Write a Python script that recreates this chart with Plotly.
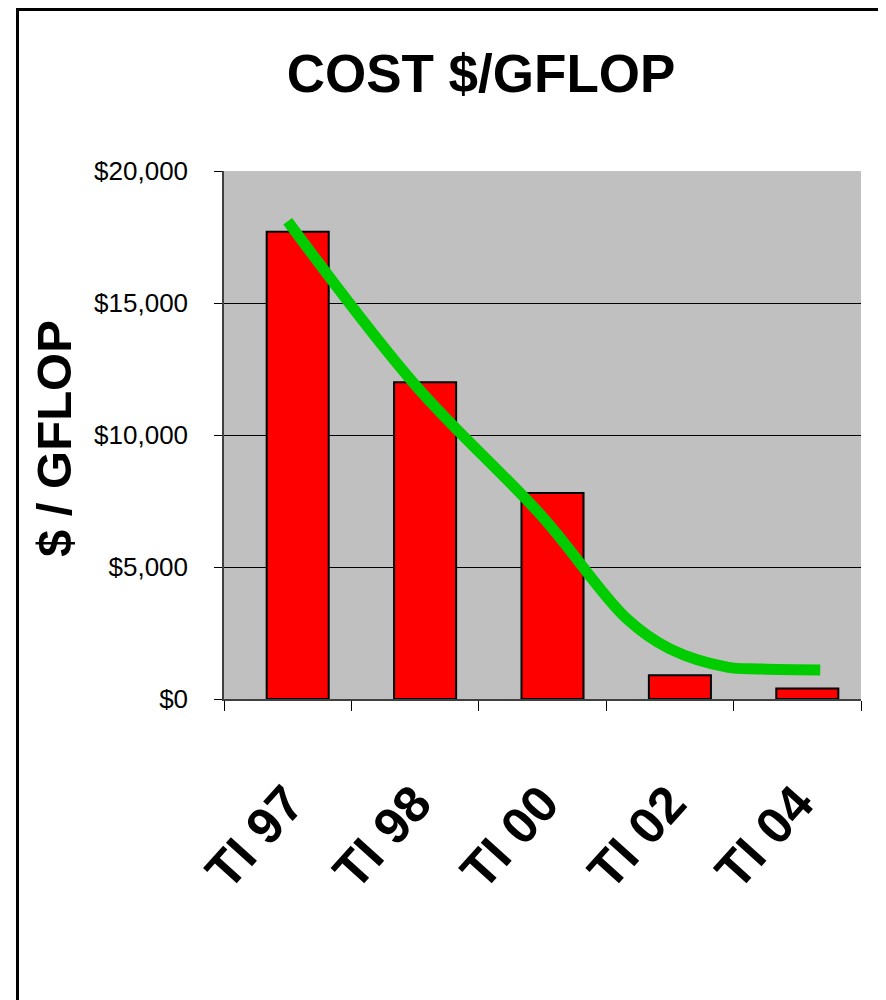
import plotly.graph_objects as go

# ---- data ----
categories = ["TI 97", "TI 98", "TI 00", "TI 02", "TI 04"]
cost_per_gflop = [17700, 12000, 7800, 900, 400]

# hand-drawn trend curve (x in category index units)
trend_x = [0.0, 1.0, 2.0, 2.66, 3.0, 3.45, 3.7, 4.18]
trend_y = [18100, 11900, 6900, 3050, 1900, 1210, 1140, 1100]

y_ticks = [0, 5000, 10000, 15000, 20000]
y_tick_labels = ["$0", "$5,000", "$10,000", "$15,000", "$20,000"]

# ---- layout constants (screen pixels; page body has an 8px margin) ----
OFF = 8
SW, SH = 886, 1000
W, H = SW - OFF, SH - OFF
PL, PR, PT, PB = 224, 861, 171, 699
pw, ph = PR - PL, PB - PT

def px_x(p):
    return (p - PL) / pw

def px_y(p):
    return (PB - p) / ph

FONT = "Liberation Sans, Arial, Helvetica, sans-serif"

fig = go.Figure()

fig.add_trace(go.Bar(
    x=list(range(len(categories))),
    y=cost_per_gflop,
    width=0.487,
    offset=-0.165,
    marker=dict(color="#FF0000", line=dict(color="#000000", width=2)),
    showlegend=False,
))

fig.add_trace(go.Scatter(
    x=trend_x,
    y=trend_y,
    mode="lines",
    line=dict(color="#00CC00", width=11, shape="spline", smoothing=1.0),
    showlegend=False,
))

fig.update_layout(
    width=W, height=H,
    margin=dict(l=PL - OFF, r=SW - PR, t=PT - OFF, b=SH - PB, pad=0),
    paper_bgcolor="white",
    plot_bgcolor="#C0C0C0",
    font=dict(family=FONT, color="black"),
    title=dict(
        text="<b>COST $/GFLOP</b>",
        font=dict(size=53, family=FONT, color="black"),
        x=(481 - OFF) / W, xref="container", xanchor="center",
        y=1 - (73 - OFF) / H, yref="container", yanchor="middle",
    ),
    xaxis=dict(
        range=[-0.5, 4.5],
        tickmode="array",
        tickvals=list(range(len(categories))),
        ticktext=[f"<b>{c}</b>" for c in categories],
        tickangle=-48,
        tickfont=dict(size=51, family=FONT, color="black"),
        ticks="",
        showgrid=False,
        zeroline=False,
        showline=True,
        linecolor="#404040",
        linewidth=1.5,
        minor=dict(
            tickmode="array",
            tickvals=[i - 0.5 for i in range(len(categories) + 1)],
            ticks="outside",
            ticklen=10,
            tickwidth=1,
            tickcolor="black",
            showgrid=False,
        ),
        ticklabelstandoff=52,
        fixedrange=True,
    ),
    yaxis=dict(
        range=[0, 20000],
        tickmode="array",
        tickvals=y_ticks,
        ticktext=y_tick_labels,
        tickfont=dict(size=26, family=FONT, color="black"),
        ticks="outside",
        ticklen=8,
        tickcolor="black",
        showgrid=True,
        gridcolor="black",
        gridwidth=1,
        zeroline=False,
        showline=True,
        linecolor="#404040",
        linewidth=1.5,
        ticklabelstandoff=21,
        fixedrange=True,
    ),
    annotations=[
        dict(
            text="<b>$ / GFLOP</b>",
            x=px_x(54), y=px_y(438),
            xref="paper", yref="paper",
            xanchor="center", yanchor="middle",
            textangle=-90, showarrow=False,
            font=dict(size=49, family=FONT, color="black"),
        )
    ],
    shapes=[
        dict(
            type="rect", xref="paper", yref="paper",
            x0=px_x(17.5), x1=px_x(881.5),
            y0=px_y(1010), y1=px_y(9.5),
            line=dict(color="black", width=3),
            fillcolor="rgba(0,0,0,0)",
            layer="above",
        )
    ],
)

fig.write_html("out.html")
